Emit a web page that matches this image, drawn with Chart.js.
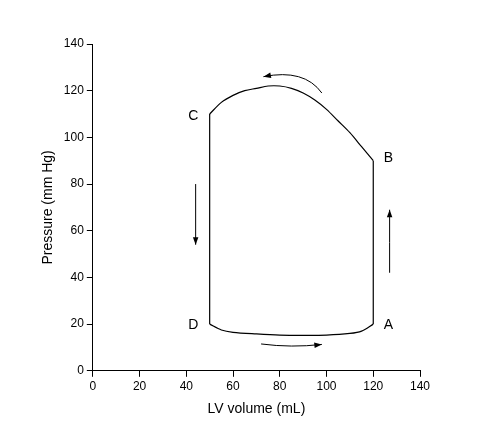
<!DOCTYPE html>
<html><head>
<script src="https://cdn.jsdelivr.net/npm/chart.js@4"></script>
<style>body{margin:0;background:#fff}#wrap{width:488px;height:439px}</style>
</head><body><div id="wrap"><canvas id="pv"></canvas></div>
<script>
// PV loop: A -> B -> top (ejection) -> C -> D -> bottom (filling) -> A
const loopX = [120, 120, 115, 110, 105, 100, 95, 90, 85, 80, 75, 70, 65, 60, 55, 50, 50, 55, 60, 70, 80, 90, 100, 110, 115, 120];
const loopY = [20, 90, 96, 102, 107, 112, 116, 119, 121, 122, 122, 121, 120, 118, 115, 110, 20, 17.5, 16.5, 15.8, 15.3, 15.2, 15.3, 16, 17, 20];

const labelText = ['A', 'B', 'C', 'D'];
const labelX = [126.5, 126.5, 43, 43];
const labelY = [19.5, 91, 109, 19.5];

// arrows: [x0, y0, xMid, yMid, x1, y1] (mid used for curved ones)
const arrows = [
  [127, 42, 127, 55, 127, 69],
  [44, 80, 44, 67, 44, 54],
  [72, 11.5, 85, 10.6, 98, 11.3],
  [98, 119, 88, 126, 73, 126]
];

const pts = (a, b) => loopX.slice(a, b).map((x, i) => ({ x: x, y: loopY[a + i] }));
const line = (data, tension) => ({ data: data, showLine: true, borderColor: '#000', borderWidth: 1.2, pointRadius: 0, tension: tension, fill: false });

const overlay = {
  id: 'overlay',
  afterDatasetsDraw(chart) {
    const c = chart.ctx, xs = chart.scales.x, ys = chart.scales.y;
    c.save();
    c.fillStyle = '#000'; c.strokeStyle = '#000'; c.lineWidth = 1;
    c.font = '14px "Liberation Sans", Arial, sans-serif';
    c.textAlign = 'center'; c.textBaseline = 'middle';
    labelText.forEach((t, i) => c.fillText(t, xs.getPixelForValue(labelX[i]), ys.getPixelForValue(labelY[i])));
    arrows.forEach(a => {
      const p = [0, 2, 4].map(k => [xs.getPixelForValue(a[k]), ys.getPixelForValue(a[k + 1])]);
      const cx = 2 * p[1][0] - (p[0][0] + p[2][0]) / 2, cy = 2 * p[1][1] - (p[0][1] + p[2][1]) / 2;
      c.beginPath(); c.moveTo(p[0][0], p[0][1]); c.quadraticCurveTo(cx, cy, p[2][0], p[2][1]); c.stroke();
      const ang = Math.atan2(p[2][1] - cy, p[2][0] - cx), L = 8;
      c.beginPath();
      c.moveTo(p[2][0], p[2][1]);
      c.lineTo(p[2][0] - L * Math.cos(ang - 0.35), p[2][1] - L * Math.sin(ang - 0.35));
      c.lineTo(p[2][0] - L * Math.cos(ang + 0.35), p[2][1] - L * Math.sin(ang + 0.35));
      c.closePath(); c.fill();
    });
    c.restore();
  }
};

const font = { family: '"Liberation Sans", Arial, sans-serif', size: 12 };
new Chart(document.getElementById('pv'), {
  type: 'scatter',
  data: {
    datasets: [
      line(pts(0, 2), 0),
      line(pts(1, 16), 0.3),
      line(pts(15, 17), 0),
      line(pts(16, 26), 0.3)
    ]
  },
  options: {
    responsive: true, maintainAspectRatio: false, animation: false,
    layout: { padding: { left: 36, right: 68, top: 44, bottom: 17 } },
    plugins: { legend: { display: false }, tooltip: { enabled: false } },
    scales: {
      x: {
        min: 0, max: 140,
        border: { color: '#000' },
        grid: { drawOnChartArea: false, color: '#000', tickLength: 6 },
        ticks: { stepSize: 20, color: '#000', font: font },
        title: { display: true, text: 'LV volume (mL)', color: '#000', font: { family: font.family, size: 14 } }
      },
      y: {
        min: 0, max: 140,
        border: { color: '#000' },
        grid: { drawOnChartArea: false, color: '#000', tickLength: 6 },
        ticks: { stepSize: 20, color: '#000', font: font },
        title: { display: true, text: 'Pressure (mm Hg)', color: '#000', font: { family: font.family, size: 14 } }
      }
    }
  },
  plugins: [overlay]
});
</script>
</body></html>
